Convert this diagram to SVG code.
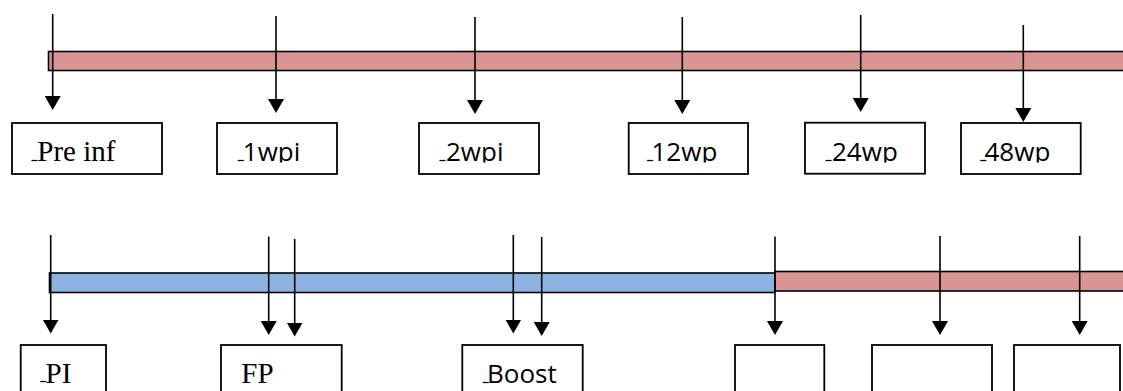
<svg xmlns="http://www.w3.org/2000/svg" width="1123" height="391" viewBox="0 0 1123 391">
  <style>
    .box { fill: #ffffff; stroke: #000000; stroke-width: 1.8; }
    .bar { stroke: #000000; stroke-width: 1.6; }
    .pink { fill: #D99594; }
    .blue { fill: #8DB3E2; }
    .arrow { stroke: #000000; stroke-width: 1.6; fill: none; marker-end: url(#head); }
    .serif { font-family: "Liberation Serif", "Times New Roman", serif; font-size: 29px; fill: #000000; }
    .sans { font-family: "Open Sans", "Liberation Sans", sans-serif; font-size: 26px; fill: #000000; }
    .mark { font-family: "Liberation Sans", Arial, sans-serif; font-size: 9px; stroke: #000000; stroke-width: 0.7; }
  </style>
  <defs>
    <marker id="head" markerUnits="userSpaceOnUse" markerWidth="14" markerHeight="16" viewBox="0 -8 14 16" refX="0.5" refY="0" orient="auto">
      <path d="M0,-8 L14,0 L0,8 Z" fill="#000000"/>
    </marker>
    <clipPath id="clipTop">
      <rect x="0" y="100" width="1123" height="62.5"/>
    </clipPath>
  </defs>
  <rect x="0" y="0" width="1123" height="391" fill="#ffffff"/>

  <g id="timelines">
    <rect class="bar pink" x="48.5" y="51.5" width="1080" height="19"/>
    <rect class="bar blue" x="49.5" y="273" width="725.5" height="19.5"/>
    <rect class="bar pink" x="775" y="271.5" width="360" height="19.5"/>
  </g>

  <g id="connectors">
    <line class="arrow" x1="52.7" y1="14" x2="52.7" y2="96.5"/>
    <line class="arrow" x1="276" y1="16" x2="276" y2="99.5"/>
    <line class="arrow" x1="475" y1="17" x2="475" y2="100.5"/>
    <line class="arrow" x1="682.3" y1="17" x2="682.3" y2="100.5"/>
    <line class="arrow" x1="860.7" y1="15" x2="860.7" y2="98.5"/>
    <line class="arrow" x1="1023.3" y1="25" x2="1023.3" y2="108.5"/>

    <line class="arrow" x1="50.7" y1="235" x2="50.7" y2="320"/>
    <line class="arrow" x1="268.7" y1="236.5" x2="268.7" y2="321.5"/>
    <line class="arrow" x1="294.7" y1="239" x2="294.7" y2="323"/>
    <line class="arrow" x1="513.3" y1="235" x2="513.3" y2="320"/>
    <line class="arrow" x1="541.7" y1="237" x2="541.7" y2="322.5"/>
    <line class="arrow" x1="775" y1="236.5" x2="775" y2="321.5"/>
    <line class="arrow" x1="940" y1="236" x2="940" y2="321.5"/>
    <line class="arrow" x1="1079.7" y1="236" x2="1079.7" y2="321.5"/>
  </g>

  <g id="node-preinf">
    <rect class="box" x="12" y="123" width="150" height="51"/>
    <text class="serif" y="161"><tspan class="mark" x="32" dy="-2.5">_</tspan><tspan x="37.3" dy="2.5">Pre inf</tspan></text>
  </g>
  <g id="node-1wpi">
    <rect class="box" x="217" y="123" width="120" height="51"/>
    <text class="sans" y="161" clip-path="url(#clipTop)"><tspan class="mark" x="238.3" dy="-2.5">_</tspan><tspan x="242.8" dy="2.5">1wpi</tspan></text>
  </g>
  <g id="node-2wpi">
    <rect class="box" x="419" y="123" width="120" height="51"/>
    <text class="sans" y="161" clip-path="url(#clipTop)"><tspan class="mark" x="440" dy="-2.5">_</tspan><tspan x="446" dy="2.5">2wpi</tspan></text>
  </g>
  <g id="node-12wp">
    <rect class="box" x="628.7" y="123" width="119.3" height="51"/>
    <text class="sans" y="161" clip-path="url(#clipTop)"><tspan class="mark" x="647.5" dy="-2.5">_</tspan><tspan x="651.5" dy="2.5">12wp</tspan></text>
  </g>
  <g id="node-24wp">
    <rect class="box" x="805" y="122.7" width="120" height="51"/>
    <text class="sans" y="161" clip-path="url(#clipTop)"><tspan class="mark" x="826" dy="-2.5">_</tspan><tspan x="832" dy="2.5">24wp</tspan></text>
  </g>
  <g id="node-48wp">
    <rect class="box" x="961" y="123" width="119.7" height="51"/>
    <text class="sans" y="161" clip-path="url(#clipTop)"><tspan class="mark" x="980.7" dy="-2.5">_</tspan><tspan x="984.5" dy="2.5">48wp</tspan></text>
  </g>

  <g id="node-pi">
    <rect class="box" x="20.7" y="345" width="85.3" height="60"/>
    <text class="serif" y="383"><tspan class="mark" x="40.7" dy="-3.5">_</tspan><tspan x="45.5" dy="3.5">PI</tspan></text>
  </g>
  <g id="node-fp">
    <rect class="box" x="221" y="345" width="120.7" height="60"/>
    <text class="serif" x="241.3" y="383">FP</text>
  </g>
  <g id="node-boost">
    <rect class="box" x="462.3" y="345" width="120.4" height="60"/>
    <text class="sans" y="383"><tspan class="mark" x="483.3" dy="-2.5">_</tspan><tspan x="487" dy="2.5">Boost</tspan></text>
  </g>
  <g id="node-empty1">
    <rect class="box" x="735" y="345" width="89.3" height="60"/>
  </g>
  <g id="node-empty2">
    <rect class="box" x="872" y="345" width="120" height="60"/>
  </g>
  <g id="node-empty3">
    <rect class="box" x="1014" y="345" width="106" height="60"/>
  </g>
</svg>
